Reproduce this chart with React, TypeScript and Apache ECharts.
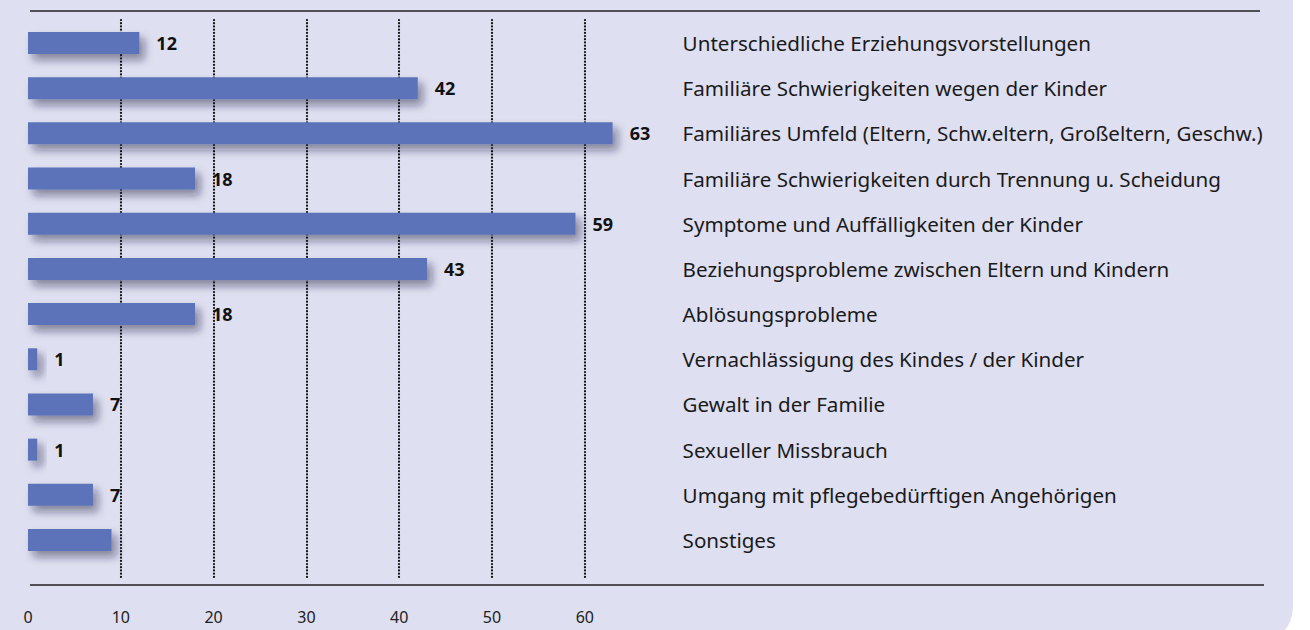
import React, { useEffect, useRef } from "react";
import * as echarts from "echarts";

const categories = [
  "Unterschiedliche Erziehungsvorstellungen",
  "Familiäre Schwierigkeiten wegen der Kinder",
  "Familiäres Umfeld (Eltern, Schw.eltern, Großeltern, Geschw.)",
  "Familiäre Schwierigkeiten durch Trennung u. Scheidung",
  "Symptome und Auffälligkeiten der Kinder",
  "Beziehungsprobleme zwischen Eltern und Kindern",
  "Ablösungsprobleme",
  "Vernachlässigung des Kindes / der Kinder",
  "Gewalt in der Familie",
  "Sexueller Missbrauch",
  "Umgang mit pflegebedürftigen Angehörigen",
  "Sonstiges",
];
const values = [12, 42, 63, 18, 59, 43, 18, 1, 7, 1, 7, 9];
const unlabeled = ["Sonstiges"];
const xTicks = [0, 10, 20, 30, 40, 50, 60];

const FONT = "Noto Sans";

export default function App() {
  const ref = useRef<HTMLDivElement>(null);
  useEffect(() => {
    if (!ref.current) return;
    const chart = echarts.init(ref.current, undefined, { renderer: "svg" });
    const gridLeft = 28;
    const gridWidth = 649.6;
    const gridRight = 1310 - gridLeft - gridWidth;
    const data = values.map((v, i) => ({
      value: v,
      label: { show: !unlabeled.includes(categories[i]) },
    }));
    chart.setOption({
      animation: false,
      textStyle: { fontFamily: FONT },
      graphic: [
        {
          type: "rect",
          z: -10,
          silent: true,
          shape: { x: 0, y: 0, width: 1293, height: 644, r: [0, 0, 37, 0] },
          style: { fill: "#dedff0" },
        },
        {
          type: "line",
          silent: true,
          shape: { x1: 30, y1: 11, x2: 1260, y2: 11 },
          style: { stroke: "#222", lineWidth: 1.4 },
        },
        {
          type: "line",
          silent: true,
          shape: { x1: 30, y1: 585, x2: 1264, y2: 585 },
          style: { stroke: "#222", lineWidth: 1.4 },
        },
      ],
      grid: [
        { left: gridLeft, right: gridRight, top: 20.4, bottom: 67.4 },
        { left: gridLeft, right: gridRight, top: 20, bottom: 52 },
      ],
      xAxis: [
        {
          gridIndex: 0,
          type: "value",
          min: 0,
          max: 70,
          interval: 10,
          axisLine: { show: false },
          axisTick: { show: false },
          axisLabel: { show: false },
          splitLine: { show: false },
        },
        {
          gridIndex: 1,
          type: "value",
          min: 0,
          max: 70,
          interval: 10,
          axisLine: { show: false },
          axisTick: { show: false },
          axisLabel: {
            show: true,
            margin: 31,
            fontSize: 16,
            color: "#222",
            fontFamily: FONT,
            formatter: (v: number) => (xTicks.includes(v) ? String(v) : ""),
          },
          splitLine: {
            show: true,
            lineStyle: {
              color: ["rgba(0,0,0,0)", "#111", "#111", "#111", "#111", "#111", "#111", "rgba(0,0,0,0)"],
              width: 2.2,
              type: [0.1, 3.1],
              cap: "round",
            },
          },
        },
      ],
      yAxis: [
        {
          gridIndex: 0,
          type: "category",
          data: categories,
          inverse: true,
          position: "right",
          axisLine: { show: false },
          axisTick: { show: false },
          axisLabel: {
            margin: 5,
            align: "left",
            fontSize: 20.6,
            color: "#1a1a1a",
            fontFamily: FONT,
          },
        },
        {
          gridIndex: 1,
          type: "value",
          show: false,
        },
      ],
      series: [
        {
          type: "bar",
          xAxisIndex: 0,
          yAxisIndex: 0,
          data,
          barWidth: 22,
          itemStyle: {
            color: "#5b73b9",
            shadowColor: "rgba(20,20,60,0.45)",
            shadowBlur: 8,
            shadowOffsetX: 5,
            shadowOffsetY: 6,
          },
          label: {
            show: true,
            position: "right",
            distance: 17,
            fontSize: 18,
            fontWeight: "bold",
            color: "#111",
            fontFamily: FONT,
          },
        },
      ],
    });
    return () => chart.dispose();
  }, []);
  return (
    <div
      ref={ref}
      style={{ position: "absolute", left: 0, top: 0, width: 1310, height: 630 }}
    />
  );
}
